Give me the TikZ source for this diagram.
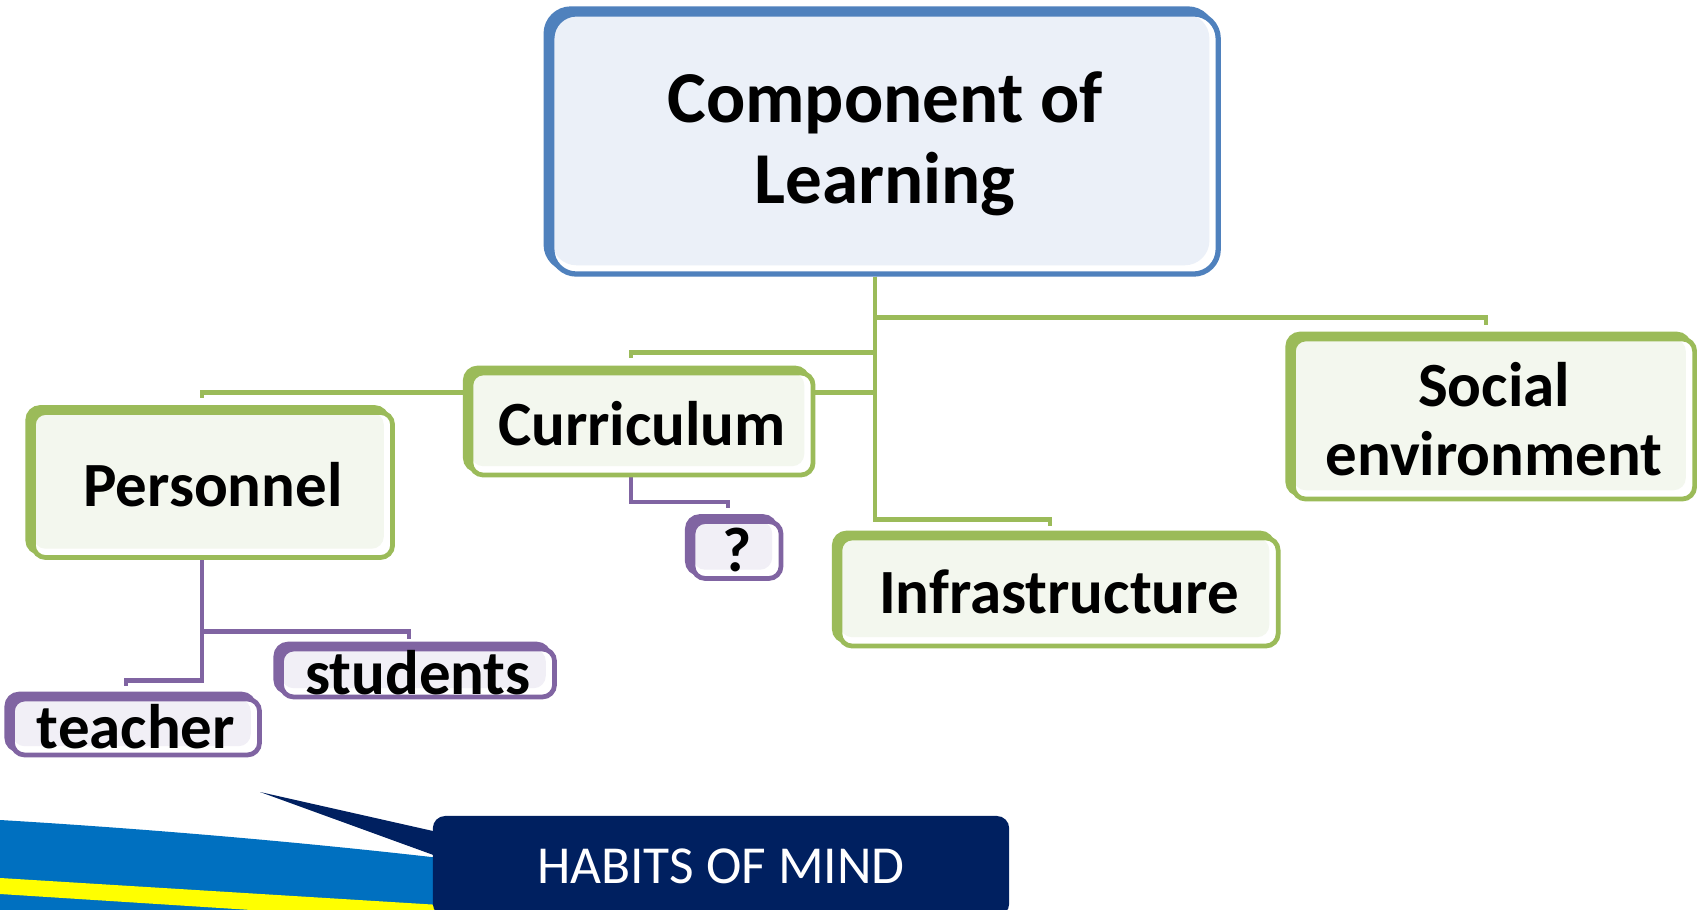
\documentclass[tikz,border=0pt]{standalone}
\usepackage{fontspec}
\setmainfont{Carlito}
\usetikzlibrary{calc, shadows, backgrounds}
\definecolor{topline}{RGB}{79,129,189}
\definecolor{topfill}{RGB}{235,240,248}
\definecolor{leafgreen}{RGB}{155,187,89}
\definecolor{greenfill}{RGB}{243,247,238}
\definecolor{plum}{RGB}{128,100,162}
\definecolor{plumfill}{RGB}{241,239,246}
\definecolor{navy}{RGB}{0,32,96}
\definecolor{swoosh}{RGB}{0,112,192}
\definecolor{stripe}{RGB}{255,255,0}

\begin{document}
\begin{tikzpicture}[x=0.01cm, y=-0.01cm,
  box/.style args={#1/#2}{draw=#1, fill=white, line width=1.35pt, rounded corners=3.5pt,
    inner sep=2pt, align=center,
    general shadow={shadow xshift=-1.6pt, shadow yshift=1.4pt, fill=#1, draw=#1},
    path picture={\fill[#2] (path picture bounding box.north west) rectangle
      ([shift={(-2.5pt,2.5pt)}]path picture bounding box.south east);}},
  topic/.style={box=topline/topfill, line width=1.5pt, rounded corners=7pt,
    font=\fontsize{20.8}{23}\selectfont\bfseries},
  part/.style={box=leafgreen/greenfill, font=\fontsize{17.9}{19.7}\selectfont\bfseries},
  item/.style={box=plum/plumfill, inner sep=0pt, font=\fontsize{17.9}{19.7}\selectfont\bfseries},
  greenlink/.style={draw=leafgreen, line width=1.4pt},
  plumlink/.style={draw=plum, line width=1.3pt}]
  \useasboundingbox (0,0) rectangle (1697,910);

  % main concept and its four parts
  \node[topic, minimum width=6.66cm, minimum height=2.6cm] (top) at (885,144) {Component of\\Learning};
  \node[part, minimum width=3.42cm, minimum height=1.02cm] (curri) at (642,424) {Curriculum};
  \node[part, minimum width=3.59cm, minimum height=1.45cm] (staff) at (213,485) {Personnel};
  \node[part, minimum width=4.01cm, minimum height=1.6cm] (social) at (1494,419) {Social\\environment};
  \node[part, minimum width=4.38cm, minimum height=1.08cm] (infra) at (1059,592) {Infrastructure};

  % sub items
  \node[item, minimum width=0.88cm, minimum height=0.57cm] (query) at (737,550) {?};
  \node[item, minimum width=2.73cm, minimum height=0.48cm] (students) at (418,673) {students};
  \node[item, minimum width=2.47cm, minimum height=0.56cm] (teacher) at (136,727) {teacher};

  % banner at the bottom
  \fill[swoosh] (0,820) .. controls (150,829) and (300,842) .. (440,858) -- (440,910) -- (0,910) -- cycle;
  \fill[stripe] (0,878) -- (440,905) -- (440,922) -- (0,894) -- cycle;
  \node[fill=navy, rounded corners=3.5pt, minimum width=5.76cm, minimum height=1cm,
    text=white, font=\fontsize{15.2}{18}\selectfont] (habits) at (721,866) {HABITS OF MIND};
  \fill[navy] (260,792) -- ($(habits.north west)+(2,16)$) -- ($(habits.north west)+(2,40)$) -- cycle;

  \begin{scope}[on background layer]
    \fill[white] (0,0) rectangle (1697,910);
    \coordinate (hub) at ($(top.south)+(-10,0)$);
    \draw[greenlink] (hub) |- ($(infra.north)+(-9,-16)$) -- ++(0,6);
    \draw[greenlink] (hub) |- ($(social.north)+(-8,-19)$) -- ++(0,7);
    \draw[greenlink] (hub) |- ($(curri.north)+(-11,-18)$) -- ++(0,5);
    \draw[greenlink] (hub) |- ($(staff.north)+(-11,-18)$) -- ++(0,6);
    \draw[plumlink] ($(curri.south)+(-11,0)$) |- ($(query.north)+(-9,-17)$) -- ++(0,6);
    \draw[plumlink] ($(staff.south)+(-11,0)$) |- ($(students.north)+(-9,-15)$) -- ++(0,7);
    \draw[plumlink] ($(staff.south)+(-11,0)$) |- ($(teacher.north)+(-10,-16)$) -- ++(0,5);
  \end{scope}
\end{tikzpicture}
\end{document}
